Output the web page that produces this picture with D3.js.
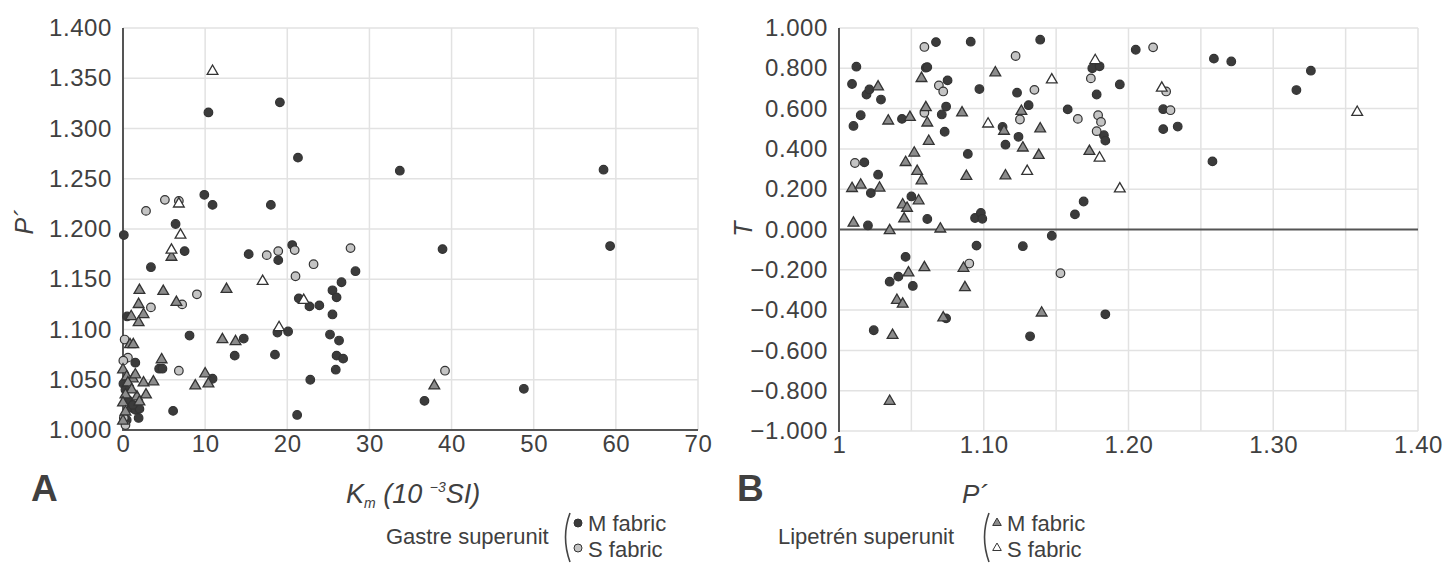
<!DOCTYPE html>
<html>
<head>
<meta charset="utf-8">
<script src="https://cdn.jsdelivr.net/npm/d3@7"></script>
<style>
  body { margin: 0; background: #fff; }
  text { font-family: "Liberation Sans", Arial, Helvetica, sans-serif; fill: #404040; }
</style>
</head>
<body>
<svg id="chart" width="1444" height="571"></svg>
<script>
// panel A: Km (10^-3 SI) vs P'
var aGastreM = [[10.4,1.316],[19.1,1.326],[21.3,1.271],[9.9,1.234],[10.9,1.224],[18.0,1.224],[6.4,1.205],[0.1,1.194],
  [7.5,1.178],[3.4,1.162],[15.3,1.175],[18.9,1.169],[20.6,1.184],[21.4,1.131],[22.7,1.123],[23.9,1.124],[25.5,1.139],
  [26.0,1.132],[26.6,1.147],[28.3,1.158],[25.5,1.115],[25.2,1.095],[26.3,1.089],[26.0,1.074],[26.8,1.071],[25.9,1.060],
  [22.8,1.050],[21.2,1.015],[18.8,1.097],[20.1,1.098],[18.5,1.075],[14.7,1.091],[13.6,1.074],[8.1,1.094],[10.9,1.051],
  [6.1,1.019],[4.4,1.061],[4.8,1.061],[1.5,1.067],[0.5,1.113],[0.05,1.046],[1.05,1.022],[1.5,1.020],[2.0,1.021],
  [1.9,1.012],[0.45,1.010],[33.7,1.258],[58.5,1.259],[38.9,1.180],[59.3,1.183],[36.7,1.029],[48.8,1.041],
  [0.3,1.040],[0.6,1.030],[1.2,1.025]];
var aGastreS = [[2.8,1.218],[5.1,1.229],[6.8,1.228],[17.5,1.174],[18.9,1.178],[20.9,1.179],[27.7,1.181],[23.2,1.165],
  [21.0,1.153],[9.0,1.135],[7.2,1.125],[3.4,1.122],[6.8,1.059],[0.6,1.072],[0.2,1.090],[0.04,1.069],[0.1,1.012],
  [39.2,1.059],[0.3,1.005]];
var aLipetrenM = [[5.9,1.172],[12.6,1.140],[2.0,1.139],[4.9,1.138],[1.9,1.125],[6.5,1.127],[2.5,1.115],[1.0,1.113],
  [1.9,1.107],[13.7,1.088],[12.1,1.090],[10.0,1.056],[10.4,1.046],[8.8,1.044],[4.7,1.070],[3.7,1.048],[2.5,1.047],
  [2.8,1.035],[1.7,1.033],[2.0,1.028],[0.85,1.085],[1.25,1.085],[0.0,1.060],[0.45,1.053],[1.2,1.051],[0.6,1.047],
  [1.05,1.040],[0.3,1.035],[0.0,1.027],[0.0,1.009],[37.9,1.044],[0.3,1.018],[1.5,1.055]];
var aLipetrenS = [[10.9,1.357],[6.8,1.225],[7.0,1.194],[5.9,1.179],[17.0,1.148],[22.0,1.129],[19.0,1.102]];

// panel B: P' vs T
var bGastreM = [[1.012,0.808],[1.009,0.722],[1.019,0.670],[1.021,0.695],[1.029,0.645],[1.015,0.567],[1.010,0.514],
  [1.0435,0.549],[1.067,0.930],[1.060,0.803],[1.061,0.806],[1.075,0.740],[1.091,0.932],[1.097,0.697],[1.071,0.571],
  [1.074,0.610],[1.073,0.485],[1.089,0.375],[1.0175,0.333],[1.027,0.272],[1.022,0.181],[1.050,0.164],[1.020,0.020],
  [1.061,0.052],[1.094,0.057],[1.098,0.082],[1.099,0.053],[1.139,0.942],[1.123,0.679],[1.131,0.617],[1.113,0.509],
  [1.124,0.460],[1.115,0.421],[1.158,0.596],[1.169,0.139],[1.163,0.075],
  [1.046,-0.136],[1.035,-0.259],[1.041,-0.234],[1.051,-0.280],[1.024,-0.500],[1.074,-0.441],[1.095,-0.080],
  [1.127,-0.083],[1.147,-0.031],[1.132,-0.530],
  [1.205,0.892],[1.259,0.848],[1.271,0.834],[1.326,0.788],[1.316,0.692],[1.175,0.800],[1.180,0.810],[1.194,0.720],
  [1.178,0.670],[1.224,0.597],[1.224,0.498],[1.234,0.511],[1.183,0.468],[1.184,0.441],[1.258,0.338],[1.184,-0.421]];
var bGastreS = [[1.059,0.906],[1.011,0.330],[1.069,0.715],[1.072,0.685],[1.059,0.579],[1.122,0.861],[1.135,0.693],
  [1.125,0.546],[1.165,0.549],[1.174,0.750],[1.090,-0.169],[1.153,-0.217],[1.217,0.904],[1.226,0.685],[1.229,0.592],
  [1.179,0.567],[1.181,0.534],[1.178,0.488]];
var bLipetrenM = [[1.027,0.708],[1.034,0.539],[1.049,0.557],[1.057,0.750],[1.060,0.605],[1.061,0.529],[1.062,0.438],
  [1.085,0.579],[1.108,0.778],[1.114,0.488],[1.126,0.587],[1.139,0.500],[1.127,0.405],[1.138,0.368],[1.115,0.267],
  [1.088,0.264],[1.052,0.380],[1.046,0.333],[1.054,0.289],[1.057,0.242],[1.009,0.204],[1.015,0.221],[1.028,0.206],
  [1.044,0.123],[1.047,0.106],[1.055,0.143],[1.045,0.053],[1.010,0.032],[1.035,-0.005],[1.070,0.003],[1.173,0.388],
  [1.048,-0.215],[1.059,-0.189],[1.086,-0.192],[1.087,-0.288],[1.040,-0.351],[1.044,-0.370],[1.072,-0.438],
  [1.037,-0.525],[1.035,-0.852],[1.140,-0.414]];
var bLipetrenS = [[1.103,0.524],[1.130,0.289],[1.147,0.743],[1.177,0.839],[1.223,0.702],[1.358,0.582],[1.180,0.355],
  [1.194,0.202]];

var aXTicks = [0, 10, 20, 30, 40, 50, 60, 70];
var aYTicks = [1.00, 1.05, 1.10, 1.15, 1.20, 1.25, 1.30, 1.35, 1.40];
var bXTicks = [1.0, 1.1, 1.2, 1.3, 1.4];
var bXGrid = [1.05, 1.10, 1.15, 1.20, 1.25, 1.30, 1.35, 1.40];
var bYTicks = [-1.0, -0.8, -0.6, -0.4, -0.2, 0.0, 0.2, 0.4, 0.6, 0.8, 1.0];

var svg = d3.select('#chart');
var darkFill = '#3b3b3b', lightFill = '#c4c4c4', triFill = '#8c8c8c', edge = '#333';
var gridCol = '#e2e2e2', axisCol = '#555';
var tickFont = 24;

var xA = d3.scaleLinear().domain([0, 70]).range([123, 698]);
var yA = d3.scaleLinear().domain([1, 1.4]).range([430, 28]);
var xB = d3.scaleLinear().domain([1, 1.4]).range([839, 1418]);
var yB = d3.scaleLinear().domain([-1, 1]).range([431, 28]);

function grid(x, y, xVals, yVals) {
    var g = svg.append('g');
    g.selectAll('.vg').data(xVals).enter().append('line')
        .attr('x1', d => x(d)).attr('x2', d => x(d))
        .attr('y1', y.range()[1]).attr('y2', y.range()[0])
        .attr('stroke', gridCol).attr('stroke-width', 1.5);
    g.selectAll('.hg').data(yVals).enter().append('line')
        .attr('x1', x.range()[0]).attr('x2', x.range()[1])
        .attr('y1', d => y(d)).attr('y2', d => y(d))
        .attr('stroke', gridCol).attr('stroke-width', 1.5);
}

function styleAxis(g) {
    g.select('.domain').remove();
    g.selectAll('line').remove();
    g.selectAll('text').attr('font-size', tickFont).attr('fill', '#404040')
        .attr('font-family', '"Liberation Sans", Arial, sans-serif')
        .style('letter-spacing', '0.6px');
}

// panel A grid + axes
grid(xA, yA, aXTicks.slice(1), aYTicks.slice(1));
svg.append('g').attr('transform', 'translate(' + (123 - 8) + ',0)')
    .call(d3.axisLeft(yA).tickValues(aYTicks).tickFormat(d3.format('.3f')).tickSize(0))
    .call(styleAxis);
svg.append('g').attr('transform', 'translate(0,' + 432 + ')')
    .call(d3.axisBottom(xA).tickValues(aXTicks).tickFormat(d3.format('d')).tickSize(0))
    .call(styleAxis);
svg.append('line').attr('x1', 123).attr('x2', 123).attr('y1', 28).attr('y2', 431)
    .attr('stroke', axisCol).attr('stroke-width', 2);
svg.append('line').attr('x1', 122).attr('x2', 698).attr('y1', 430).attr('y2', 430)
    .attr('stroke', axisCol).attr('stroke-width', 2);

// panel B grid + axes
grid(xB, yB, bXGrid, bYTicks.filter(d => d !== 0));
svg.append('g').attr('transform', 'translate(' + (839 - 8) + ',0)')
    .call(d3.axisLeft(yB).tickValues(bYTicks).tickFormat(d3.format('.3f')).tickSize(0))
    .call(styleAxis);
svg.append('g').attr('transform', 'translate(0,' + 433 + ')')
    .call(d3.axisBottom(xB).tickValues(bXTicks).tickFormat(d => d === 1 ? '1' : d3.format('.2f')(d)).tickSize(0))
    .call(styleAxis);
svg.append('line').attr('x1', 839).attr('x2', 839).attr('y1', 28).attr('y2', 432)
    .attr('stroke', axisCol).attr('stroke-width', 2);
svg.append('line').attr('x1', 839).attr('x2', 1418).attr('y1', yB(0)).attr('y2', yB(0))
    .attr('stroke', axisCol).attr('stroke-width', 2);

// marks
var tri = d3.symbol().type(d3.symbolTriangle).size(50);

function dots(data, x, y, fill) {
    svg.append('g').selectAll('circle').data(data).enter().append('circle')
        .attr('cx', d => x(d[0])).attr('cy', d => y(d[1])).attr('r', 4.3)
        .attr('fill', fill).attr('stroke', edge).attr('stroke-width', 1.2);
}
function tris(data, x, y, fill) {
    svg.append('g').selectAll('path').data(data).enter().append('path')
        .attr('d', tri)
        .attr('transform', d => 'translate(' + x(d[0]) + ',' + y(d[1]) + ')')
        .attr('fill', fill).attr('stroke', edge).attr('stroke-width', 1.3);
}

dots(aGastreM, xA, yA, darkFill);
dots(aGastreS, xA, yA, lightFill);
tris(aLipetrenM, xA, yA, triFill);
tris(aLipetrenS, xA, yA, '#fff');

dots(bGastreM, xB, yB, darkFill);
dots(bGastreS, xB, yB, lightFill);
tris(bLipetrenM, xB, yB, triFill);
tris(bLipetrenS, xB, yB, '#fff');

// axis titles
svg.append('text').attr('transform', 'translate(33,222) rotate(-90)')
    .attr('text-anchor', 'middle').attr('font-size', 25).attr('font-style', 'italic').text('P´');
svg.append('text').attr('transform', 'translate(752,229) rotate(-90)')
    .attr('text-anchor', 'middle').attr('font-size', 25).attr('font-style', 'italic').text('T');

var km = svg.append('text').attr('x', 346).attr('y', 503).attr('font-size', 27).attr('font-style', 'italic');
km.append('tspan').text('K');
km.append('tspan').attr('font-size', 14).attr('dy', 5).text('m');
km.append('tspan').attr('dy', -5).text(' (10 ');
km.append('tspan').attr('font-size', 14).attr('dy', -11).text('−3');
km.append('tspan').attr('dy', 11).text('SI)');

svg.append('text').attr('x', 962).attr('y', 503).attr('font-size', 26).attr('font-style', 'italic').text('P´');

svg.append('text').attr('x', 31).attr('y', 501).attr('font-size', 37).attr('font-weight', 'bold')
    .attr('fill', '#333').text('A');
svg.append('text').attr('x', 737).attr('y', 501).attr('font-size', 37).attr('font-weight', 'bold')
    .attr('fill', '#333').text('B');

// legend
function bracket(x) {
    svg.append('path').attr('d', 'M' + (x + 5) + ',513 Q' + (x - 4) + ',537 ' + (x + 5) + ',562')
        .attr('fill', 'none').attr('stroke', '#444').attr('stroke-width', 1.6);
}
var legFont = 22;
var lg = svg.append('g');
lg.append('text').attr('x', 386).attr('y', 544).attr('font-size', legFont).text('Gastre superunit');
bracket(565);
lg.append('circle').attr('cx', 578).attr('cy', 523).attr('r', 4).attr('fill', darkFill).attr('stroke', edge);
lg.append('circle').attr('cx', 578).attr('cy', 548).attr('r', 4).attr('fill', lightFill).attr('stroke', edge);
lg.append('text').attr('x', 588).attr('y', 531).attr('font-size', legFont).text('M fabric');
lg.append('text').attr('x', 588).attr('y', 557).attr('font-size', legFont).text('S fabric');

lg.append('text').attr('x', 778).attr('y', 544).attr('font-size', legFont).text('Lipetrén superunit');
bracket(984);
var tsm = d3.symbol().type(d3.symbolTriangle).size(32);
lg.append('path').attr('d', tsm).attr('transform', 'translate(997,523)').attr('fill', triFill).attr('stroke', edge);
lg.append('path').attr('d', tsm).attr('transform', 'translate(997,548)').attr('fill', '#fff').attr('stroke', edge);
lg.append('text').attr('x', 1007).attr('y', 531).attr('font-size', legFont).text('M fabric');
lg.append('text').attr('x', 1007).attr('y', 557).attr('font-size', legFont).text('S fabric');
</script>
</body>
</html>
